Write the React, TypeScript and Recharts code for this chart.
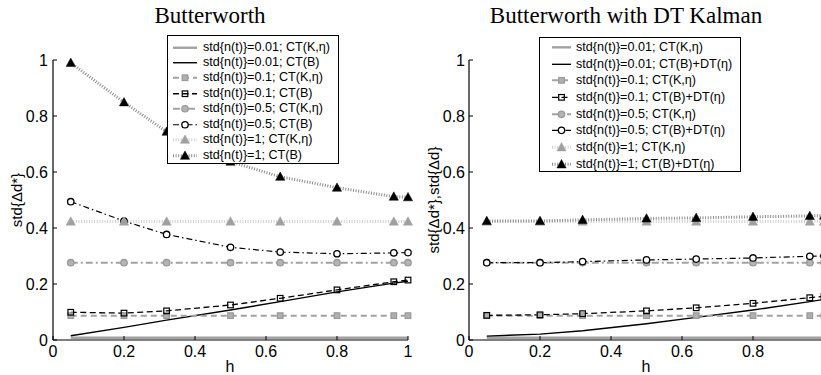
import React from 'react';
import { LineChart, Line, XAxis, YAxis, Legend } from 'recharts';

// ---- data ----
const hValues = [0.05, 0.2, 0.32, 0.5, 0.64, 0.8, 0.96, 1];
const axisTicks = [0, 0.2, 0.4, 0.6, 0.8, 1];
const dtXTicks = [0, 0.2, 0.4, 0.6, 0.8];

// Butterworth panel
const bwCtK001 = [0.008, 0.008, 0.008, 0.008, 0.008, 0.008, 0.008, 0.008];
const bwCtB001 = [0.015, 0.045, 0.071, 0.107, 0.137, 0.172, 0.203, 0.21];
const bwCtK01 = [0.087, 0.087, 0.087, 0.087, 0.087, 0.087, 0.087, 0.087];
const bwCtB01 = [0.099, 0.096, 0.104, 0.125, 0.149, 0.179, 0.208, 0.214];
const bwCtK05 = [0.276, 0.276, 0.276, 0.276, 0.276, 0.276, 0.276, 0.276];
const bwCtB05 = [0.494, 0.425, 0.377, 0.331, 0.314, 0.308, 0.311, 0.312];
const bwCtK1 = [0.423, 0.423, 0.423, 0.423, 0.423, 0.423, 0.423, 0.423];
const bwCtB1 = [0.99, 0.849, 0.744, 0.637, 0.583, 0.544, 0.512, 0.51];

// Butterworth with DT Kalman panel
const dtCtK001 = [0.008, 0.008, 0.008, 0.008, 0.008, 0.008, 0.008, 0.008];
const dtCtB001 = [0.014, 0.021, 0.033, 0.058, 0.081, 0.107, 0.137, 0.145];
const dtCtK01 = [0.087, 0.087, 0.087, 0.087, 0.087, 0.087, 0.087, 0.087];
const dtCtB01 = [0.088, 0.09, 0.094, 0.104, 0.115, 0.131, 0.151, 0.156];
const dtCtK05 = [0.276, 0.276, 0.276, 0.276, 0.276, 0.276, 0.276, 0.276];
const dtCtB05 = [0.276, 0.276, 0.28, 0.286, 0.289, 0.293, 0.299, 0.3];
const dtCtK1 = [0.423, 0.423, 0.423, 0.423, 0.423, 0.423, 0.423, 0.423];
const dtCtB1 = [0.425, 0.425, 0.429, 0.434, 0.436, 0.44, 0.443, 0.444];

const bwNames = [
  'std{n(t)}=0.01; CT(K,η)',
  'std{n(t)}=0.01; CT(B)',
  'std{n(t)}=0.1; CT(K,η)',
  'std{n(t)}=0.1; CT(B)',
  'std{n(t)}=0.5; CT(K,η)',
  'std{n(t)}=0.5; CT(B)',
  'std{n(t)}=1; CT(K,η)',
  'std{n(t)}=1; CT(B)',
];
const dtNames = [
  'std{n(t)}=0.01; CT(K,η)',
  'std{n(t)}=0.01; CT(B)+DT(η)',
  'std{n(t)}=0.1; CT(K,η)',
  'std{n(t)}=0.1; CT(B)+DT(η)',
  'std{n(t)}=0.5; CT(K,η)',
  'std{n(t)}=0.5; CT(B)+DT(η)',
  'std{n(t)}=1; CT(K,η)',
  'std{n(t)}=1; CT(B)+DT(η)',
];

const bwSeries = [bwCtK001, bwCtB001, bwCtK01, bwCtB01, bwCtK05, bwCtB05, bwCtK1, bwCtB1];
const dtSeries = [dtCtK001, dtCtB001, dtCtK01, dtCtB01, dtCtK05, dtCtB05, dtCtK1, dtCtB1];

const buildRows = (series: number[][]) =>
  hValues.map((h, i) => {
    const row: Record<string, number> = { h };
    series.forEach((s, k) => {
      row['s' + k] = s[i];
    });
    return row;
  });

// ---- styles ----
type Kind = 'none' | 'square' | 'circle' | 'triangle';
type Sty = {
  color: string;
  width: number;
  dash?: string;
  kind: Kind;
  fill: string;
  mStroke: string;
};

const GREY = '#a2a2a2';
const styles: Sty[] = [
  { color: GREY, width: 2.4, kind: 'none', fill: 'none', mStroke: GREY },
  { color: '#000', width: 1.4, kind: 'none', fill: 'none', mStroke: '#000' },
  { color: GREY, width: 2, dash: '6 4', kind: 'square', fill: '#b0b0b0', mStroke: '#9a9a9a' },
  { color: '#000', width: 1.3, dash: '6 3.5', kind: 'square', fill: 'none', mStroke: '#000' },
  { color: GREY, width: 2, dash: '7 3 2 3', kind: 'circle', fill: '#b4b4b4', mStroke: '#9a9a9a' },
  { color: '#000', width: 1.2, dash: '6 3 1.5 3', kind: 'circle', fill: '#fff', mStroke: '#000' },
  { color: '#d0d0d0', width: 3, dash: '1 1.6', kind: 'triangle', fill: '#a0a0a0', mStroke: '#a0a0a0' },
  { color: '#8c8c8c', width: 3, dash: '1 1.6', kind: 'triangle', fill: '#000', mStroke: '#000' },
];

const SANS = '"Liberation Sans", Arial, sans-serif';
const SERIF = '"Liberation Serif", "Times New Roman", serif';

function Marker({ cx, cy, s }: { cx: number; cy: number; s: Sty }) {
  if (cx == null || cy == null || s.kind === 'none') return <g />;
  if (s.kind === 'square') {
    return <rect x={cx - 2.8} y={cy - 2.8} width={5.6} height={5.6} fill={s.fill} stroke={s.mStroke} strokeWidth={1.2} />;
  }
  if (s.kind === 'circle') {
    return <circle cx={cx} cy={cy} r={3.2} fill={s.fill} stroke={s.mStroke} strokeWidth={1.3} />;
  }
  return (
    <polygon
      points={`${cx},${cy - 4.8} ${cx - 4.6},${cy + 3.6} ${cx + 4.6},${cy + 3.6}`}
      fill={s.fill}
      stroke={s.mStroke}
      strokeWidth={0.5}
    />
  );
}

type LegendGeom = {
  left: number;
  top: number;
  width: number;
  height: number;
  padTop: number;
  rowH: number;
  sx0: number;
  sx1: number;
  textX: number;
};

function LegendBox({ names, g }: { names: string[]; g: LegendGeom }) {
  return (
    <div
      style={{
        position: 'relative',
        width: g.width - 2,
        height: g.height - 2,
        border: '1px solid #000',
        background: '#fff',
      }}
    >
      {names.map((n, i) => {
        const s = styles[i];
        const cy = g.padTop + g.rowH * (i + 0.5);
        const mid = (g.sx0 + g.sx1) / 2;
        return (
          <div key={i}>
            <svg
              width={g.textX}
              height={g.rowH}
              style={{ position: 'absolute', left: 0, top: cy - g.rowH / 2 }}
            >
              <line
                x1={g.sx0}
                x2={g.sx1}
                y1={g.rowH / 2}
                y2={g.rowH / 2}
                stroke={s.color}
                strokeWidth={s.width}
                strokeDasharray={s.dash}
              />
              <Marker cx={mid} cy={g.rowH / 2} s={s} />
            </svg>
            <div
              style={{
                position: 'absolute',
                left: g.textX,
                top: cy - g.rowH / 2,
                height: g.rowH,
                lineHeight: g.rowH + 'px',
                fontFamily: SANS,
                fontSize: 12.6,
                whiteSpace: 'nowrap',
                color: '#000',
              }}
            >
              {n}
            </div>
          </div>
        );
      })}
    </div>
  );
}

type PanelProps = {
  left: number;
  width: number;
  marginLeft: number;
  marginRight: number;
  series: number[][];
  names: string[];
  legend: LegendGeom;
  yTickMargin: number;
  xTicks: number[];
};

function Panel({ left, width, marginLeft, marginRight, series, names, legend, yTickMargin, xTicks }: PanelProps) {
  const rows = buildRows(series);
  const tickStyle = { fill: '#000', fontSize: 16, fontFamily: SANS };
  return (
    <div style={{ position: 'absolute', left, top: 0 }}>
      <LineChart
        width={width}
        height={375}
        data={rows}
        margin={{ top: 60, right: marginRight, bottom: 0, left: marginLeft }}
      >
        <XAxis
          dataKey="h"
          type="number"
          domain={[0, 1]}
          ticks={xTicks}
          interval={0}
          tickSize={-4}
          tickMargin={10}
          height={35}
          stroke="#000"
          tick={tickStyle}
          tickLine={{ stroke: '#000' }}
          axisLine={{ stroke: '#000', strokeWidth: 1.2 }}
        />
        <XAxis
          xAxisId="top"
          orientation="top"
          dataKey="h"
          type="number"
          domain={[0, 1]}
          ticks={axisTicks}
          interval={0}
          tickSize={-4}
          height={0}
          tick={false}
          stroke="#000"
          tickLine={{ stroke: '#000' }}
          axisLine={{ stroke: '#000', strokeWidth: 1.2 }}
        />
        <YAxis
          type="number"
          domain={[0, 1]}
          ticks={axisTicks}
          interval={0}
          tickSize={-4}
          tickMargin={yTickMargin}
          width={45}
          stroke="#000"
          tick={tickStyle}
          tickLine={{ stroke: '#000' }}
          axisLine={{ stroke: '#000', strokeWidth: 1.2 }}
        />
        <YAxis
          yAxisId="right"
          orientation="right"
          type="number"
          domain={[0, 1]}
          ticks={axisTicks}
          interval={0}
          tickSize={-4}
          width={0}
          tick={false}
          stroke="#000"
          tickLine={{ stroke: '#000' }}
          axisLine={{ stroke: '#000', strokeWidth: 1.2 }}
        />
        {styles.map((s, k) => (
          <Line
            key={k}
            dataKey={'s' + k}
            name={names[k]}
            type="linear"
            stroke={s.color}
            strokeWidth={s.width}
            strokeDasharray={s.dash}
            isAnimationActive={false}
            activeDot={false}
            dot={
              s.kind === 'none'
                ? false
                : (p: any) => <Marker key={'m' + k + '-' + p.index} cx={p.cx} cy={p.cy} s={s} />
            }
          />
        ))}
        <Legend
          layout="vertical"
          align="center"
          verticalAlign="middle"
          wrapperStyle={{ left: legend.left, top: legend.top, width: legend.width, height: legend.height }}
          content={() => <LegendBox names={names} g={legend} />}
        />
      </LineChart>
    </div>
  );
}

const bwLegend: LegendGeom = {
  left: 167,
  top: 35,
  width: 172,
  height: 129,
  padTop: 3.5,
  rowH: 15.47,
  sx0: 5,
  sx1: 29,
  textX: 35,
};
const dtLegend: LegendGeom = {
  left: 129,
  top: 37,
  width: 202,
  height: 135,
  padTop: 1,
  rowH: 16.66,
  sx0: 12,
  sx1: 31,
  textX: 36,
};

export default function App() {
  return (
    <div
      style={{
        position: 'fixed',
        left: 0,
        top: 0,
        width: 821,
        height: 375,
        overflow: 'hidden',
        background: '#fff',
      }}
    >
      <Panel
        left={0}
        width={440}
        marginLeft={8}
        marginRight={32}
        series={bwSeries}
        names={bwNames}
        legend={bwLegend}
        yTickMargin={9}
        xTicks={axisTicks}
      />
      <Panel
        left={410}
        width={440}
        marginLeft={14}
        marginRight={26}
        series={dtSeries}
        names={dtNames}
        legend={dtLegend}
        yTickMargin={8}
        xTicks={dtXTicks}
      />
      <svg
        width={821}
        height={375}
        style={{ position: 'absolute', left: 0, top: 0, pointerEvents: 'none' }}
      >
        <text x={210} y={23} textAnchor="middle" fontFamily={SERIF} fontSize={23} fill="#000">
          Butterworth
        </text>
        <text x={626} y={23} textAnchor="middle" fontFamily={SERIF} fontSize={23} fill="#000">
          Butterworth with DT Kalman
        </text>
        <text x={230} y={372} textAnchor="middle" fontFamily={SANS} fontSize={16} fill="#000">
          h
        </text>
        <text x={646} y={372} textAnchor="middle" fontFamily={SANS} fontSize={16} fill="#000">
          h
        </text>
        <text
          x={22}
          y={200}
          textAnchor="middle"
          fontFamily={SANS}
          fontSize={15}
          fill="#000"
          transform="rotate(-90 22 200)"
        >
          std{'{'}Δd*{'}'}
        </text>
        <text
          x={439}
          y={200}
          textAnchor="middle"
          fontFamily={SANS}
          fontSize={15}
          fill="#000"
          transform="rotate(-90 439 200)"
        >
          std{'{'}Δd*{'}'},std{'{'}Δd{'}'}
        </text>
      </svg>
    </div>
  );
}
